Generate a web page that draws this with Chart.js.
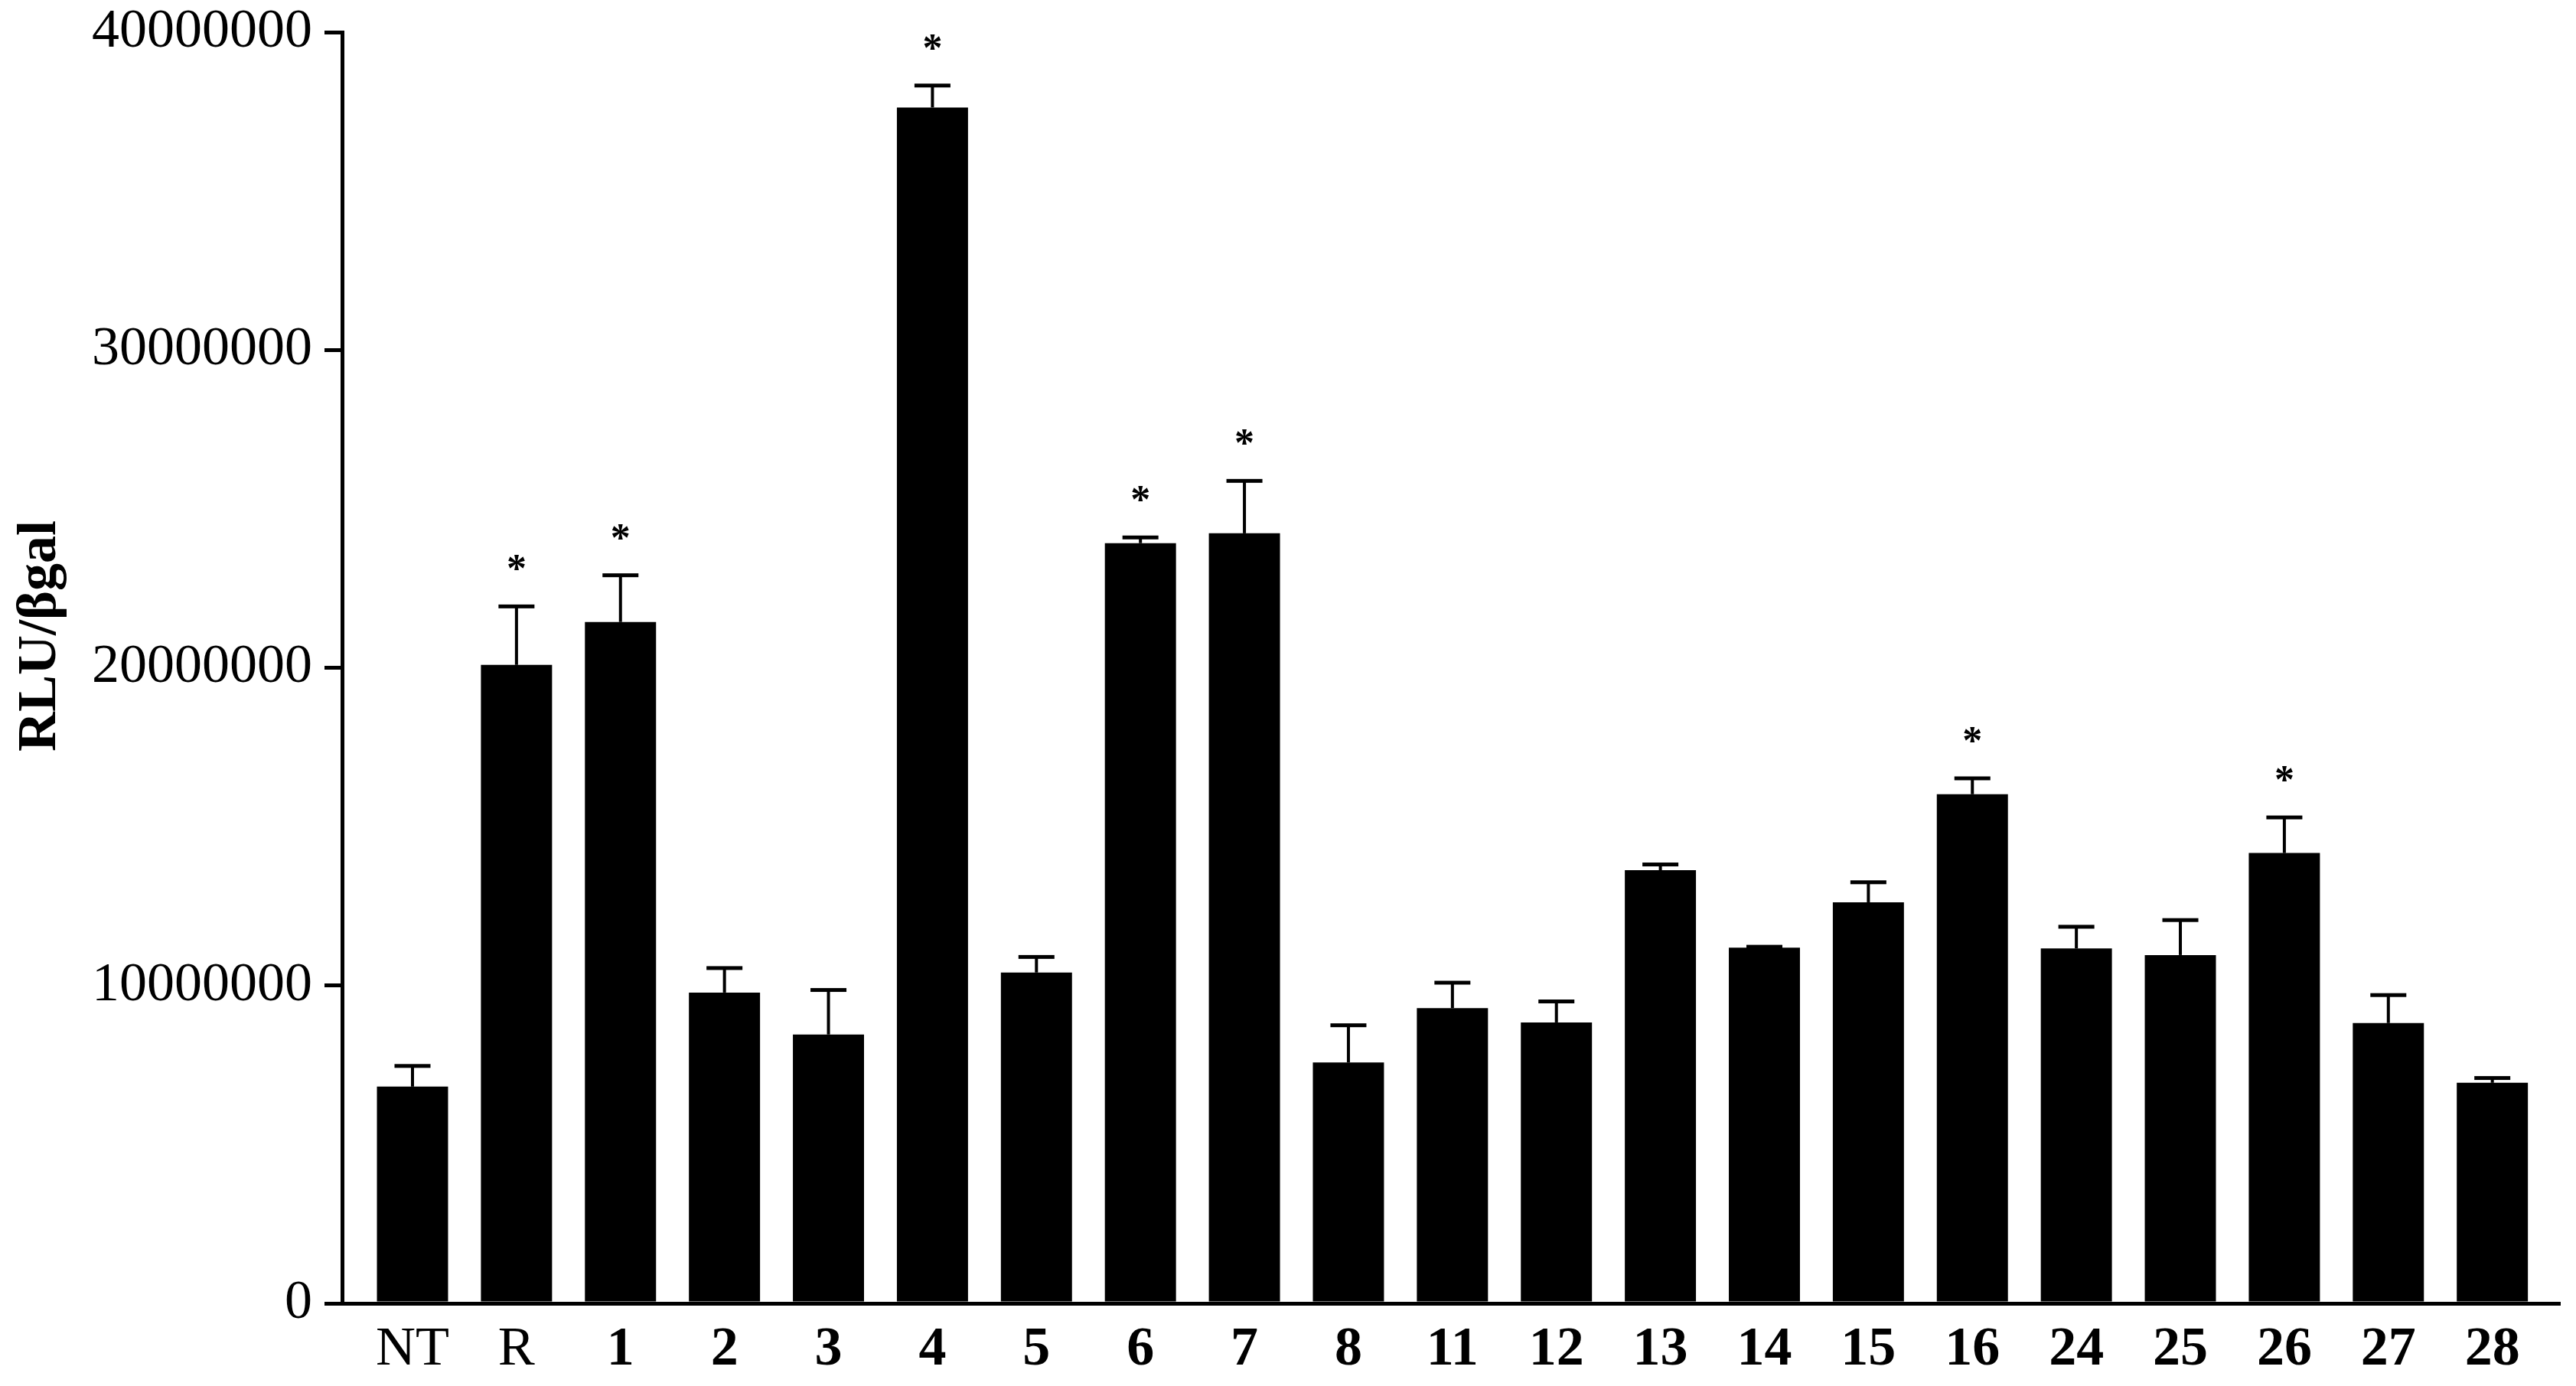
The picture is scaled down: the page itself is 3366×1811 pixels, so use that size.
<!DOCTYPE html>
<html>
<head>
<meta charset="utf-8">
<title>RLU/βgal</title>
<script src="https://cdn.jsdelivr.net/npm/chart.js@4.4.0/dist/chart.umd.min.js"></script>
<style>
  html, body { margin: 0; padding: 0; background: #fff; }
  canvas { display: block; }
</style>
</head>
<body>
<canvas id="rlu" width="3366" height="1811"></canvas>
<script>
// sample names on the x axis
var categories = ['NT', 'R', '1', '2', '3', '4', '5', '6', '7', '8', '11', '12',
                  '13', '14', '15', '16', '24', '25', '26', '27', '28'];
// mean RLU/βgal per sample
var means = [6820000, 20090000, 21440000, 9780000, 8460000, 37630000, 10410000,
             23920000, 24230000, 7580000, 9290000, 8840000, 13630000, 11190000,
             12620000, 16020000, 11170000, 10960000, 14170000, 8820000, 6940000];
// error (upper bar only)
var errors = [650000, 1840000, 1470000, 770000, 1400000, 690000, 490000,
              180000, 1650000, 1170000, 800000, 660000, 180000, 30000,
              630000, 500000, 680000, 1100000, 1120000, 880000, 150000];
// asterisk = significant
var significant = [false, true, true, false, false, true, false, true, true, false, false,
                   false, false, false, false, true, false, false, true, false, false];
// y axis ticks
var yTicks = [0, 10000000, 20000000, 30000000, 40000000];

var serif = '"Liberation Serif", "Times New Roman", serif';

// error bars + stars on top of the bars
var errorBars = {
  id: 'errorBars',
  afterDatasetsDraw: function(chart) {
    var ctx = chart.ctx;
    var y = chart.scales.y;
    var meta = chart.getDatasetMeta(0);
    ctx.save();
    ctx.fillStyle = '#000';
    meta.data.forEach(function(bar, i) {
      var top = y.getPixelForValue(means[i] + errors[i]);
      ctx.fillRect(bar.x - 2, top, 4, bar.y - top);
      ctx.fillRect(bar.x - 23.5, top - 2.5, 47, 5);
      if (significant[i]) {
        ctx.font = 'bold 52px ' + serif;
        ctx.textAlign = 'center';
        ctx.textBaseline = 'alphabetic';
        ctx.fillText('*', bar.x, top - 32);
      }
    });
    ctx.restore();
  }
};

// y axis title, a bit above the middle like the original
var yTitle = {
  id: 'yTitle',
  afterDraw: function(chart) {
    var ctx = chart.ctx;
    ctx.save();
    ctx.translate(53, 831);
    ctx.rotate(-Math.PI / 2);
    ctx.font = 'bold 72px ' + serif;
    ctx.fillStyle = '#000';
    ctx.textAlign = 'center';
    ctx.textBaseline = 'middle';
    ctx.fillText('RLU/βgal', 0, 0);
    ctx.restore();
  }
};

var config = {
  type: 'bar',
  data: {
    datasets: [{
      data: means.map(function(m, i) { return { x: i, y: m }; }),
      backgroundColor: '#000',
      borderWidth: 0,
      barPercentage: 0.684,
      categoryPercentage: 1
    }]
  },
  options: {
    responsive: false,
    animation: false,
    layout: { padding: { top: 42, right: 21, left: 0, bottom: 0 } },
    plugins: {
      legend: { display: false },
      tooltip: { enabled: false }
    },
    scales: {
      x: {
        type: 'linear',
        offset: false,
        min: -0.677,
        max: 20.65,
        afterBuildTicks: function(scale) {
          scale.ticks = categories.map(function(c, i) { return { value: i }; });
        },
        afterFit: function(scale) {
          scale.height = 108;
          scale.paddingLeft = 0;
          scale.paddingRight = 0;
        },
        grid: { display: false, offset: false },
        border: { display: true, color: '#000', width: 5 },
        ticks: {
          autoSkip: false,
          maxRotation: 0,
          padding: 10,
          color: '#000',
          callback: function(v) { return categories[Math.round(v)]; },
          font: function(ctx) {
            var label = ctx.tick ? categories[Math.round(ctx.tick.value)] : '1';
            return { family: serif, size: 72, weight: isNaN(Number(label)) ? 'normal' : 'bold' };
          }
        }
      },
      y: {
        min: 0,
        max: 40000000,
        afterBuildTicks: function(scale) {
          scale.ticks = yTicks.map(function(v) { return { value: v }; });
        },
        afterFit: function(scale) {
          scale.width = 447;
          scale.paddingTop = 0;
          scale.paddingBottom = 0;
        },
        grid: {
          drawOnChartArea: false,
          drawTicks: true,
          tickLength: 23,
          lineWidth: 5,
          tickWidth: 5,
          color: '#000',
          tickColor: '#000'
        },
        border: { display: true, color: '#000', width: 5 },
        ticks: {
          padding: 16,
          color: '#000',
          font: { family: serif, size: 72 },
          callback: function(v) { return String(v); }
        }
      }
    }
  },
  plugins: [errorBars, yTitle]
};

new Chart(document.getElementById('rlu').getContext('2d'), config);
</script>
</body>
</html>
